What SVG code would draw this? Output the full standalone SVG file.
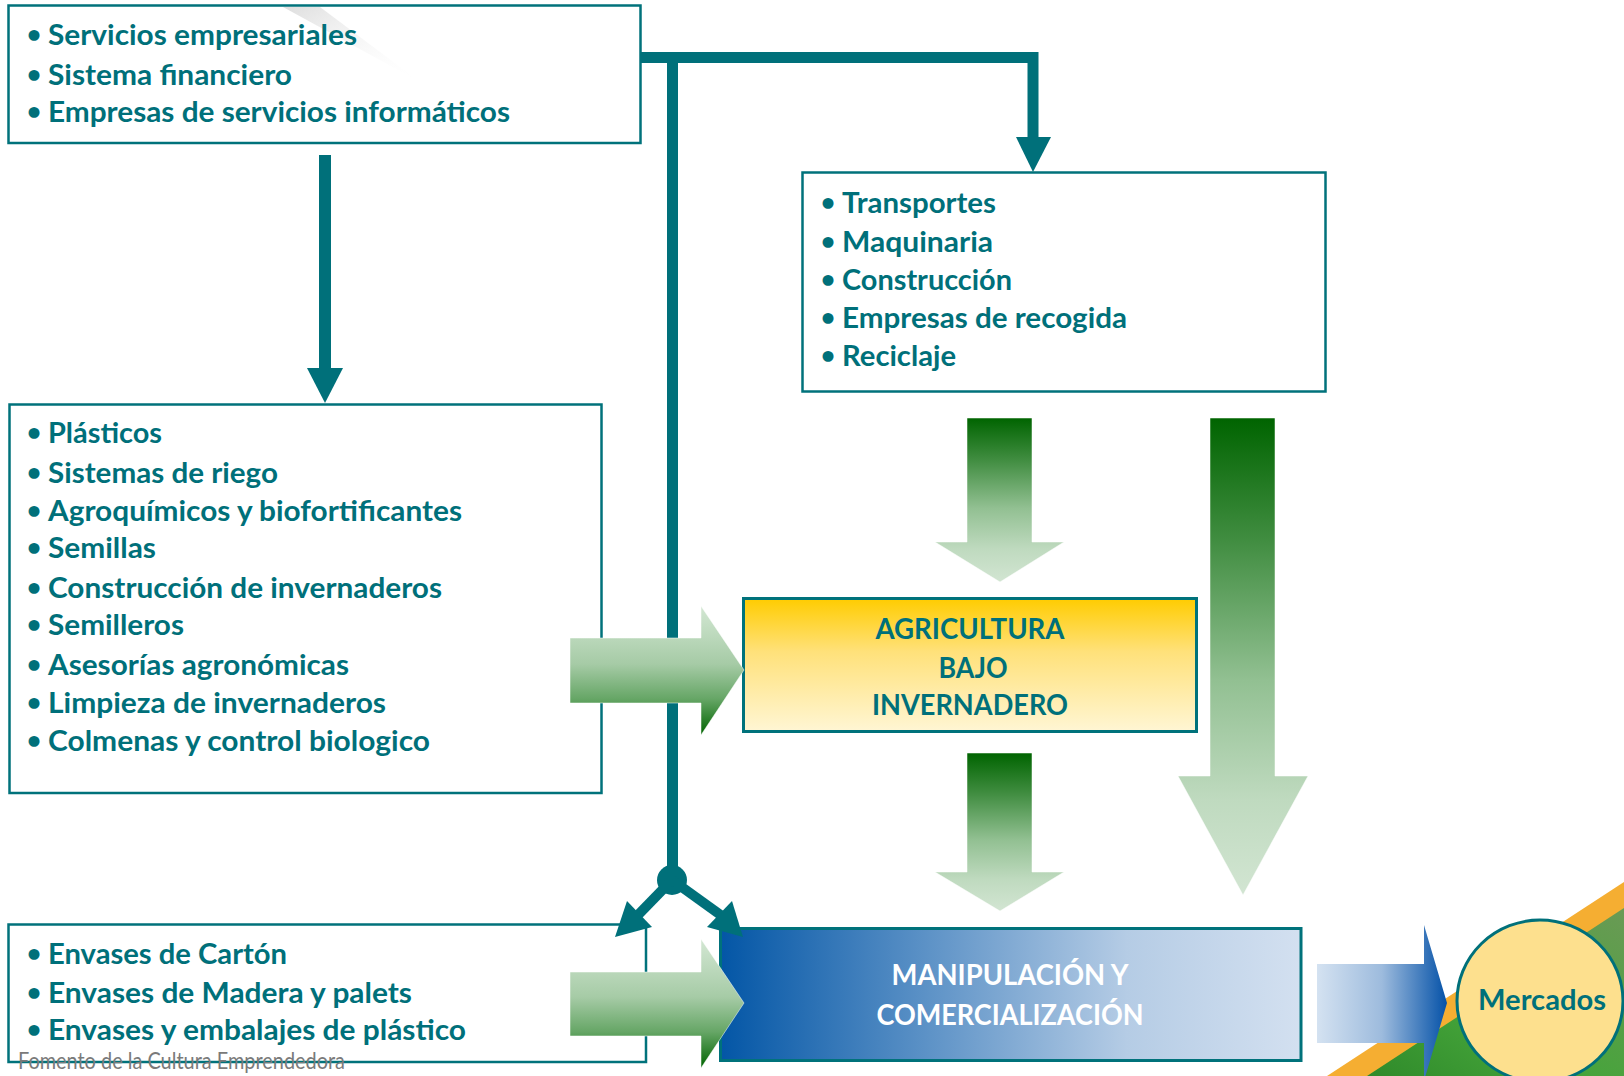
<svg xmlns="http://www.w3.org/2000/svg" width="1624" height="1076" viewBox="0 0 1624 1076">
  <defs>
    <style>
      .box { fill: #ffffff; stroke: #00727b; stroke-width: 2.5; }
      .item { font-family: "Lato", "Open Sans", sans-serif; font-weight: 700; font-size: 29px; fill: #00707a; }
      .b { font-size: 25px; }
      .title { font-family: "Lato", "Open Sans", sans-serif; font-weight: 700; font-size: 28px; fill: #00707a; text-anchor: middle; }
      .white { fill: #ffffff; }
      .teal { fill: none; stroke: #00707a; stroke-width: 11; stroke-linejoin: miter; }
      .tealfill { fill: #00707a; }
      .footer { font-family: "Lato", "Open Sans", sans-serif; font-weight: 400; font-size: 23px; fill: #7a7a7a; }
    </style>
    <linearGradient id="gRight" x1="0" y1="0" x2="0" y2="1">
      <stop offset="0" stop-color="#d3e7d3"/>
      <stop offset="0.45" stop-color="#a6cba6"/>
      <stop offset="0.72" stop-color="#66a666"/>
      <stop offset="1" stop-color="#006400"/>
    </linearGradient>
    <linearGradient id="gDown" x1="0" y1="0" x2="0" y2="1">
      <stop offset="0" stop-color="#006400"/>
      <stop offset="0.25" stop-color="#3f8c3f"/>
      <stop offset="0.55" stop-color="#92c092"/>
      <stop offset="0.8" stop-color="#bfdabf"/>
      <stop offset="1" stop-color="#d2e5d2"/>
    </linearGradient>
    <linearGradient id="gYellow" x1="0" y1="0" x2="0" y2="1">
      <stop offset="0" stop-color="#ffcc00"/>
      <stop offset="0.4" stop-color="#ffe17a"/>
      <stop offset="1" stop-color="#fff6d4"/>
    </linearGradient>
    <linearGradient id="gBlueBox" x1="0" y1="0" x2="1" y2="0">
      <stop offset="0" stop-color="#0356a6"/>
      <stop offset="0.35" stop-color="#5b91c6"/>
      <stop offset="0.7" stop-color="#b5cce5"/>
      <stop offset="1" stop-color="#d3e0f0"/>
    </linearGradient>
    <linearGradient id="gBlueArrow" x1="0" y1="0" x2="1" y2="0">
      <stop offset="0" stop-color="#d4e2f1"/>
      <stop offset="0.5" stop-color="#9dbbdd"/>
      <stop offset="1" stop-color="#0552a8"/>
    </linearGradient>
    <linearGradient id="gGreenBg" x1="0" y1="1" x2="1" y2="0">
      <stop offset="0" stop-color="#2f8a2a"/>
      <stop offset="0.4" stop-color="#45a43a"/>
      <stop offset="1" stop-color="#6a9a55"/>
    </linearGradient>
    <linearGradient id="gStreak" x1="0" y1="0" x2="1" y2="1">
      <stop offset="0" stop-color="#dcdcdc" stop-opacity="0.95"/>
      <stop offset="1" stop-color="#ffffff" stop-opacity="0"/>
    </linearGradient>
  </defs>

  <rect x="0" y="0" width="1624" height="1076" fill="#ffffff"/>

  <!-- background decoration bottom-right -->
  <g id="background">
    <polygon points="1327,1076 1624,882 1624,1076" fill="#f5ae32"/>
    <polygon points="1367,1076 1624,908 1624,1076" fill="url(#gGreenBg)"/>
  </g>

  <!-- nodes -->
  <g id="node-servicios">
    <rect class="box" x="8.5" y="5.5" width="632" height="137.5"/>
    <polygon points="283,7 320,7 420,82" fill="url(#gStreak)"/>
    <text class="item"><tspan class="b" x="34" text-anchor="middle" y="43">•</tspan><tspan x="48" y="45" textLength="309" lengthAdjust="spacingAndGlyphs">Servicios empresariales</tspan></text>
    <text class="item"><tspan class="b" x="34" text-anchor="middle" y="83">•</tspan><tspan x="48" y="85" textLength="244" lengthAdjust="spacingAndGlyphs">Sistema financiero</tspan></text>
    <text class="item"><tspan class="b" x="34" text-anchor="middle" y="120">•</tspan><tspan x="48" y="122" textLength="462" lengthAdjust="spacingAndGlyphs">Empresas de servicios informáticos</tspan></text>
  </g>

  <g id="node-transportes">
    <rect class="box" x="802.5" y="172.5" width="523" height="219"/>
    <text class="item"><tspan class="b" x="828" text-anchor="middle" y="211">•</tspan><tspan x="842" y="213" textLength="154" lengthAdjust="spacingAndGlyphs">Transportes</tspan></text>
    <text class="item"><tspan class="b" x="828" text-anchor="middle" y="250">•</tspan><tspan x="842" y="252" textLength="151" lengthAdjust="spacingAndGlyphs">Maquinaria</tspan></text>
    <text class="item"><tspan class="b" x="828" text-anchor="middle" y="288">•</tspan><tspan x="842" y="290" textLength="170" lengthAdjust="spacingAndGlyphs">Construcción</tspan></text>
    <text class="item"><tspan class="b" x="828" text-anchor="middle" y="326">•</tspan><tspan x="842" y="328" textLength="285" lengthAdjust="spacingAndGlyphs">Empresas de recogida</tspan></text>
    <text class="item"><tspan class="b" x="828" text-anchor="middle" y="364">•</tspan><tspan x="842" y="366" textLength="114" lengthAdjust="spacingAndGlyphs">Reciclaje</tspan></text>
  </g>

  <g id="node-insumos">
    <rect class="box" x="9.5" y="404.5" width="592" height="388.5"/>
    <text class="item"><tspan class="b" x="34" text-anchor="middle" y="441">•</tspan><tspan x="48" y="443" textLength="114" lengthAdjust="spacingAndGlyphs">Plásticos</tspan></text>
    <text class="item"><tspan class="b" x="34" text-anchor="middle" y="481">•</tspan><tspan x="48" y="483" textLength="230" lengthAdjust="spacingAndGlyphs">Sistemas de riego</tspan></text>
    <text class="item"><tspan class="b" x="34" text-anchor="middle" y="519">•</tspan><tspan x="48" y="521" textLength="414" lengthAdjust="spacingAndGlyphs">Agroquímicos y biofortificantes</tspan></text>
    <text class="item"><tspan class="b" x="34" text-anchor="middle" y="556">•</tspan><tspan x="48" y="558" textLength="108" lengthAdjust="spacingAndGlyphs">Semillas</tspan></text>
    <text class="item"><tspan class="b" x="34" text-anchor="middle" y="596">•</tspan><tspan x="48" y="598" textLength="394" lengthAdjust="spacingAndGlyphs">Construcción de invernaderos</tspan></text>
    <text class="item"><tspan class="b" x="34" text-anchor="middle" y="633">•</tspan><tspan x="48" y="635" textLength="136" lengthAdjust="spacingAndGlyphs">Semilleros</tspan></text>
    <text class="item"><tspan class="b" x="34" text-anchor="middle" y="673">•</tspan><tspan x="48" y="675" textLength="301" lengthAdjust="spacingAndGlyphs">Asesorías agronómicas</tspan></text>
    <text class="item"><tspan class="b" x="34" text-anchor="middle" y="711">•</tspan><tspan x="48" y="713" textLength="338" lengthAdjust="spacingAndGlyphs">Limpieza de invernaderos</tspan></text>
    <text class="item"><tspan class="b" x="34" text-anchor="middle" y="749">•</tspan><tspan x="48" y="751" textLength="382" lengthAdjust="spacingAndGlyphs">Colmenas y control biologico</tspan></text>
  </g>

  <g id="node-envases">
    <rect class="box" x="8.5" y="924.5" width="637.5" height="137.5"/>
    <text class="item"><tspan class="b" x="34" text-anchor="middle" y="962">•</tspan><tspan x="48" y="964" textLength="239" lengthAdjust="spacingAndGlyphs">Envases de Cartón</tspan></text>
    <text class="item"><tspan class="b" x="34" text-anchor="middle" y="1001">•</tspan><tspan x="48" y="1003" textLength="364" lengthAdjust="spacingAndGlyphs">Envases de Madera y palets</tspan></text>
    <text class="item"><tspan class="b" x="34" text-anchor="middle" y="1038">•</tspan><tspan x="48" y="1040" textLength="418" lengthAdjust="spacingAndGlyphs">Envases y embalajes de plástico</tspan></text>
  </g>

  <g id="node-agricultura">
    <rect x="743.5" y="598.5" width="453" height="133" fill="url(#gYellow)" stroke="#00727b" stroke-width="3"/>
    <text class="title" x="970" y="639" textLength="189" lengthAdjust="spacingAndGlyphs">AGRICULTURA</text>
    <text class="title" x="973" y="678" textLength="69" lengthAdjust="spacingAndGlyphs">BAJO</text>
    <text class="title" x="970" y="715" textLength="196" lengthAdjust="spacingAndGlyphs">INVERNADERO</text>
  </g>

  <g id="node-manipulacion">
    <rect x="720.5" y="928.5" width="580.5" height="132" fill="url(#gBlueBox)" stroke="#00727b" stroke-width="3"/>
    <text class="title white" x="1010" y="985" textLength="237" lengthAdjust="spacingAndGlyphs">MANIPULACIÓN Y</text>
    <text class="title white" x="1010" y="1025" textLength="267" lengthAdjust="spacingAndGlyphs">COMERCIALIZACIÓN</text>
  </g>

  <g id="node-mercados">
    <ellipse cx="1540" cy="1001" rx="83" ry="81" fill="#fde08e" stroke="#00707a" stroke-width="3"/>
    <text class="title" x="1542" y="1010" textLength="128" lengthAdjust="spacingAndGlyphs">Mercados</text>
  </g>

  <!-- connectors -->
  <g id="connectors">
    <line x1="325" y1="155" x2="325" y2="370" stroke="#00707a" stroke-width="12"/>
    <polygon class="tealfill" points="307,368 343,368 325,403"/>
    <path class="teal" d="M641,57.5 H1033 V139"/>
    <polygon class="tealfill" points="1016,137 1051,137 1033,172"/>
    <path class="teal" d="M672.5,57 V880"/>
    <circle class="tealfill" cx="672" cy="880" r="15"/>
    <line x1="672" y1="880" x2="637" y2="916" stroke="#00707a" stroke-width="10"/>
    <line x1="672" y1="880" x2="722" y2="916" stroke="#00707a" stroke-width="10"/>
    <polygon class="tealfill" points="615,937 627,901 652,927"/>
    <polygon class="tealfill" points="743,937 732,901 707,927"/>
    <polygon points="570,638 701,638 701,606 744,670 701,735 701,703 570,703" fill="url(#gRight)" stroke="#ffffff" stroke-opacity="0.5" stroke-width="1"/>
    <polygon points="570,972 701,972 701,939 744,1003 701,1068 701,1036 570,1036" fill="url(#gRight)" stroke="#ffffff" stroke-opacity="0.5" stroke-width="1"/>
    <polygon points="967,418 1032,418 1032,542 1064,542 1000,582 935,542 967,542" fill="url(#gDown)" stroke="#ffffff" stroke-opacity="0.5" stroke-width="1"/>
    <polygon points="967,753 1032,753 1032,872 1064,872 1000,911 935,872 967,872" fill="url(#gDown)" stroke="#ffffff" stroke-opacity="0.5" stroke-width="1"/>
    <polygon points="1210,418 1275,418 1275,776 1308,776 1243,895 1178,776 1210,776" fill="url(#gDown)" stroke="#ffffff" stroke-opacity="0.5" stroke-width="1"/>
    <polygon points="1317,964 1424,964 1424,925 1447,1003 1424,1081 1424,1043 1317,1043" fill="url(#gBlueArrow)"/>
  </g>

  <text class="footer" x="18" y="1069" textLength="327" lengthAdjust="spacingAndGlyphs">Fomento de la Cultura Emprendedora</text>
</svg>
